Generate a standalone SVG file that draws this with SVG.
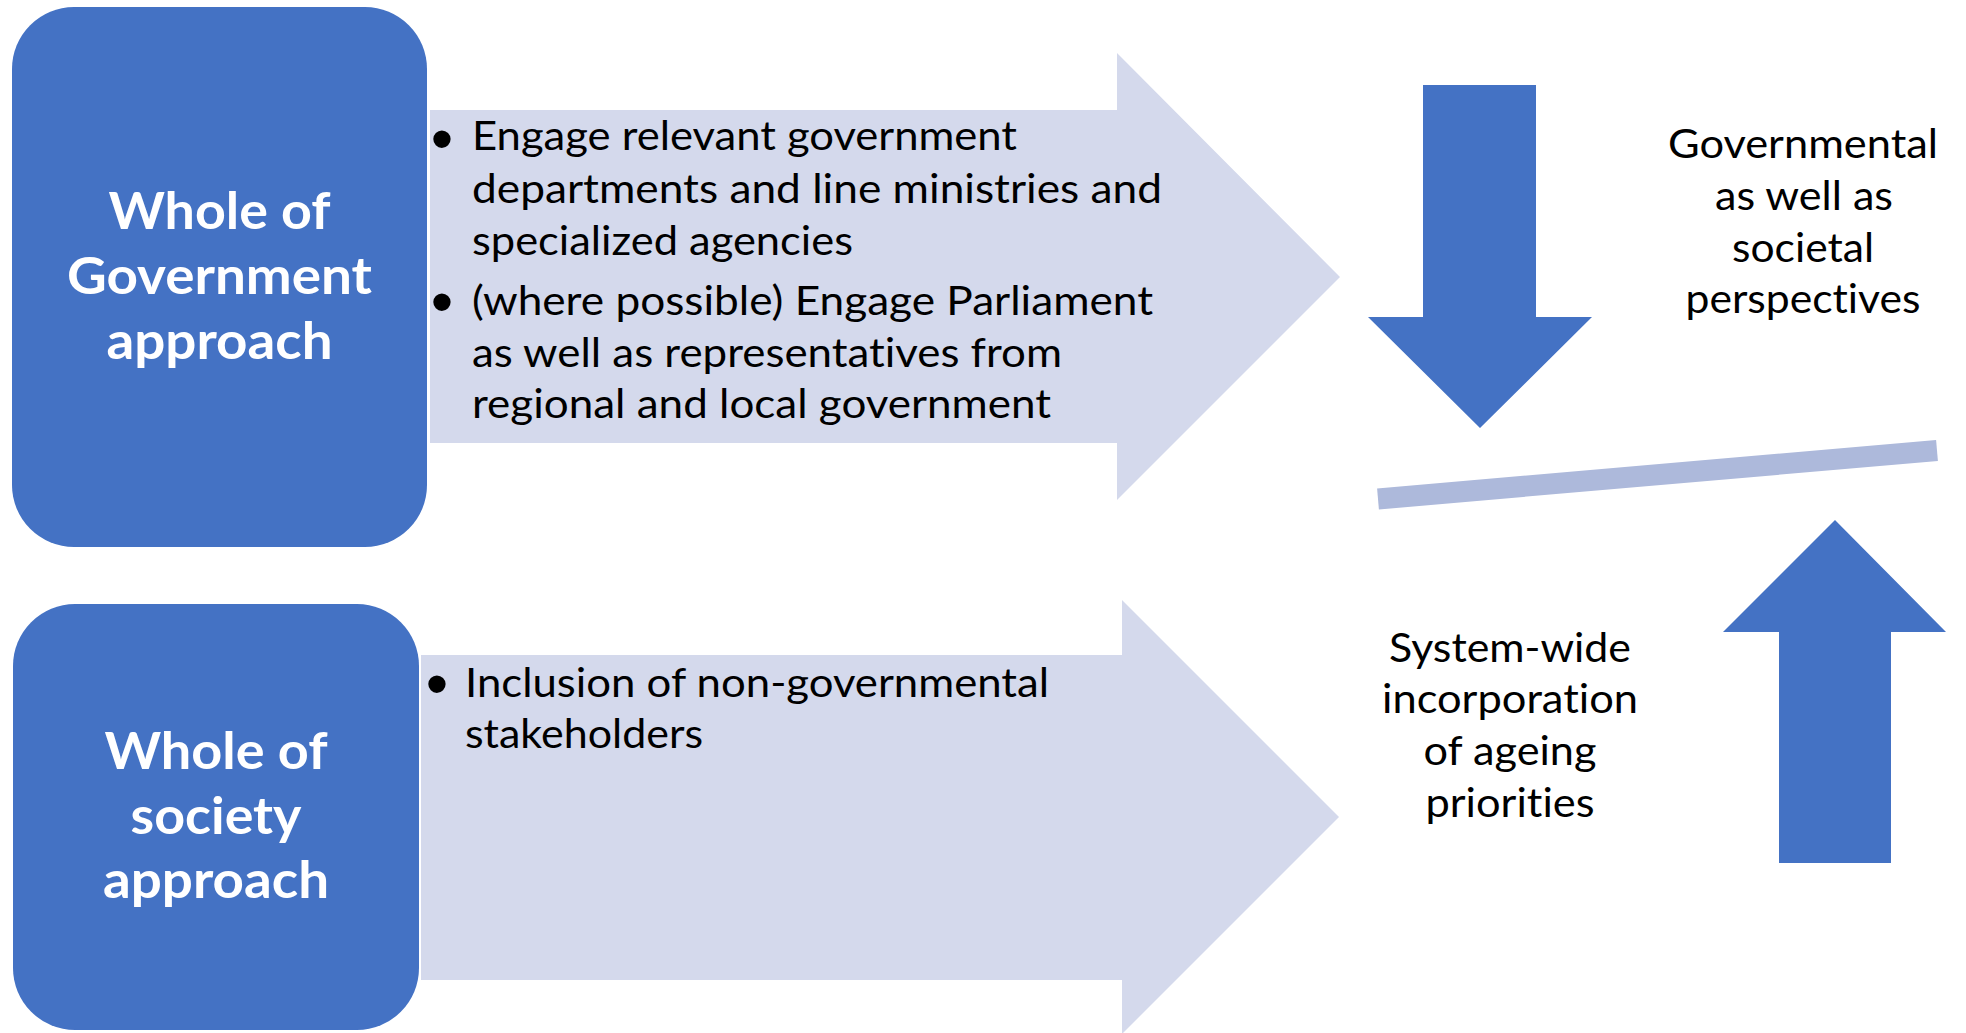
<svg xmlns="http://www.w3.org/2000/svg" width="1966" height="1033" viewBox="0 0 1966 1033">
<style>
  .box { fill: #4472C4; }
  .band { fill: #D4D9EC; }
  .blue { fill: #4472C4; }
  .bar { stroke: #ADB9DB; stroke-width: 21; stroke-linecap: butt; fill: none; }
  text { font-variant-ligatures: none; font-feature-settings: "liga" 0, "clig" 0; }
  .title { font-family: Lato, "Open Sans", sans-serif; font-weight: bold; font-size: 52px; fill: #FFFFFF; text-anchor: middle; }
  .body { font-family: Lato, "Open Sans", sans-serif; font-size: 40px; fill: #000000; }
  .ctr { text-anchor: middle; }
  .bul { font-family: "Liberation Sans", Arial, sans-serif; font-size: 64px; fill: #000000; text-anchor: middle; }
</style>
<rect x="0" y="0" width="1966" height="1033" fill="#FFFFFF"/>

<g id="connectors">
  <polygon id="arrow-down" class="blue" points="1423,85 1536,85 1536,317 1592,317 1480,428 1368,317 1423,317"/>
  <polygon id="arrow-up" class="blue" points="1835,520 1946,632 1891,632 1891,863 1779,863 1779,632 1723,632"/>
  <line id="balance-bar" class="bar" x1="1378" y1="499" x2="1937" y2="450.5"/>
</g>

<g id="node-whole-government">
  <rect class="box" x="12" y="7" width="415" height="540" rx="62" ry="62"/>
  <text class="title" x="219.5" y="229" textLength="222" lengthAdjust="spacingAndGlyphs">Whole of</text>
  <text class="title" x="219.5" y="294" textLength="305" lengthAdjust="spacingAndGlyphs">Government</text>
  <text class="title" x="219.5" y="359" textLength="226" lengthAdjust="spacingAndGlyphs">approach</text>
</g>

<g id="node-government-actions">
  <polygon class="band" points="430,110 1117,110 1117,53 1340,277 1117,500 1117,443 430,443"/>
  <text class="bul" x="442" y="160.5">•</text>
  <text class="body" x="472" y="150" textLength="545" lengthAdjust="spacingAndGlyphs">Engage relevant government</text>
  <text class="body" x="472" y="203" textLength="690" lengthAdjust="spacingAndGlyphs">departments and line ministries and</text>
  <text class="body" x="472" y="255" textLength="381" lengthAdjust="spacingAndGlyphs">specialized agencies</text>
  <text class="bul" x="442" y="323.5">•</text>
  <text class="body" x="472" y="315" textLength="681" lengthAdjust="spacingAndGlyphs">(where possible) Engage Parliament</text>
  <text class="body" x="472" y="367" textLength="590" lengthAdjust="spacingAndGlyphs">as well as representatives from</text>
  <text class="body" x="472" y="418" textLength="579" lengthAdjust="spacingAndGlyphs">regional and local government</text>
</g>

<g id="node-whole-society">
  <rect class="box" x="13" y="604" width="406" height="426" rx="62" ry="62"/>
  <text class="title" x="216" y="769" textLength="223" lengthAdjust="spacingAndGlyphs">Whole of</text>
  <text class="title" x="216" y="834" textLength="171" lengthAdjust="spacingAndGlyphs">society</text>
  <text class="title" x="216" y="898" textLength="226" lengthAdjust="spacingAndGlyphs">approach</text>
</g>

<g id="node-society-actions">
  <polygon class="band" points="421,655 1122,655 1122,600 1339,817 1122,1034 1122,980 421,980"/>
  <text class="bul" x="437" y="705.5">•</text>
  <text class="body" x="465" y="697" textLength="584" lengthAdjust="spacingAndGlyphs">Inclusion of non-governmental</text>
  <text class="body" x="465" y="748" textLength="238" lengthAdjust="spacingAndGlyphs">stakeholders</text>
</g>

<g id="node-perspectives">
  <text class="body ctr" x="1803" y="158" textLength="270" lengthAdjust="spacingAndGlyphs">Governmental</text>
  <text class="body ctr" x="1804" y="210" textLength="178" lengthAdjust="spacingAndGlyphs">as well as</text>
  <text class="body ctr" x="1803" y="262" textLength="142" lengthAdjust="spacingAndGlyphs">societal</text>
  <text class="body ctr" x="1803" y="313" textLength="235" lengthAdjust="spacingAndGlyphs">perspectives</text>
</g>

<g id="node-system-wide">
  <text class="body ctr" x="1510" y="662" textLength="242" lengthAdjust="spacingAndGlyphs">System-wide</text>
  <text class="body ctr" x="1510" y="713" textLength="256" lengthAdjust="spacingAndGlyphs">incorporation</text>
  <text class="body ctr" x="1510" y="765" textLength="173" lengthAdjust="spacingAndGlyphs">of ageing</text>
  <text class="body ctr" x="1510" y="817" textLength="169" lengthAdjust="spacingAndGlyphs">priorities</text>
</g>
</svg>
